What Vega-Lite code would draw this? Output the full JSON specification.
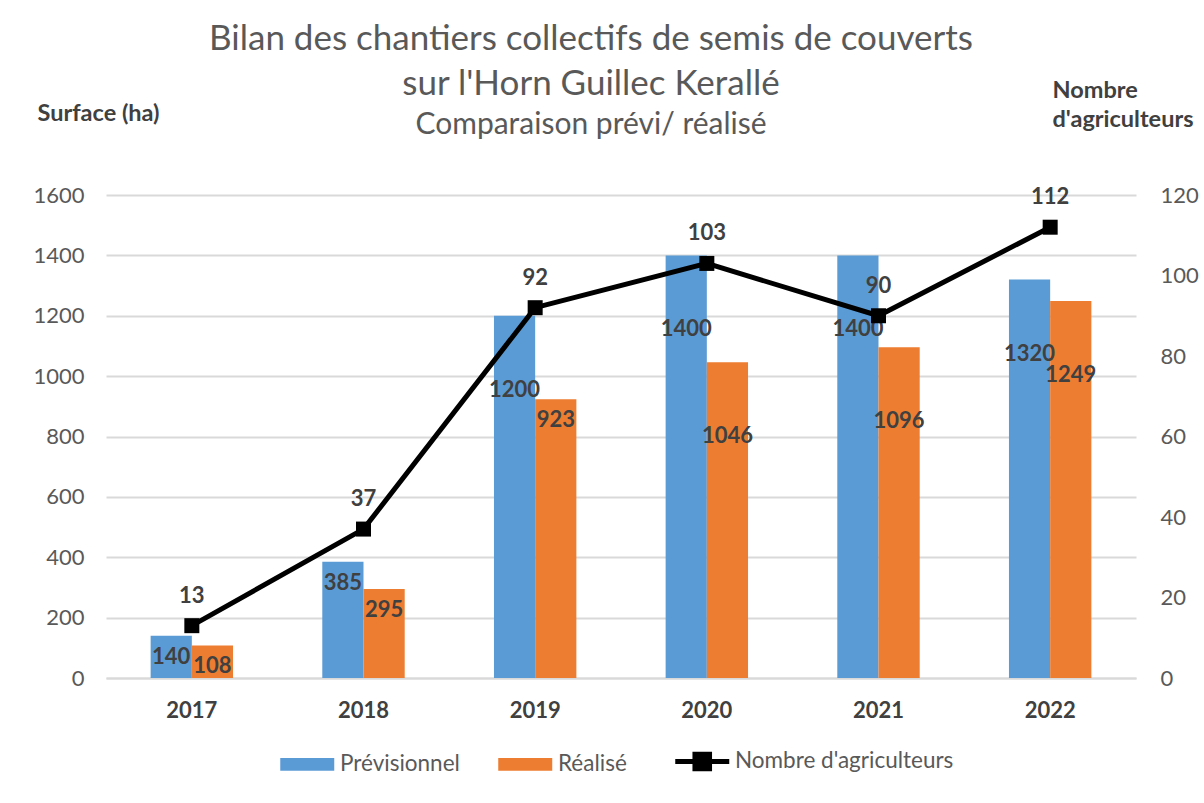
{
  "$schema": "https://vega.github.io/schema/vega-lite/v6.json",
  "width": 1030,
  "height": 483,
  "autosize": "none",
  "padding": {"left": 106, "top": 195, "right": 68, "bottom": 125},
  "background": "white",
  "config": {"view": {"stroke": null}, "font": "Lato"},
  "title": {
    "text": ["Bilan des chantiers collectifs de semis de couverts", "sur l'Horn Guillec Kerallé"],
    "subtitle": "Comparaison prévi/ réalisé",
    "fontSize": 35,
    "fontWeight": "normal",
    "color": "#595959",
    "lineHeight": 45,
    "subtitleFontSize": 30,
    "subtitleColor": "#595959",
    "subtitlePadding": 8,
    "anchor": "middle",
    "frame": "group",
    "dx": -30,
    "offset": -62
  },
  "datasets": {
    "surface": [
      {"year": "2017", "series": "Prévisionnel", "surface": 140},
      {"year": "2017", "series": "Réalisé", "surface": 108},
      {"year": "2018", "series": "Prévisionnel", "surface": 385},
      {"year": "2018", "series": "Réalisé", "surface": 295},
      {"year": "2019", "series": "Prévisionnel", "surface": 1200},
      {"year": "2019", "series": "Réalisé", "surface": 923},
      {"year": "2020", "series": "Prévisionnel", "surface": 1400},
      {"year": "2020", "series": "Réalisé", "surface": 1046},
      {"year": "2021", "series": "Prévisionnel", "surface": 1400},
      {"year": "2021", "series": "Réalisé", "surface": 1096},
      {"year": "2022", "series": "Prévisionnel", "surface": 1320},
      {"year": "2022", "series": "Réalisé", "surface": 1249}
    ],
    "agri": [
      {"year": "2017", "agri": 13},
      {"year": "2018", "agri": 37},
      {"year": "2019", "agri": 92},
      {"year": "2020", "agri": 103},
      {"year": "2021", "agri": 90},
      {"year": "2022", "agri": 112}
    ]
  },
  "layer": [
    {
      "data": {"name": "surface"},
      "encoding": {
        "x": {
          "field": "year", "type": "nominal",
          "scale": {"paddingInner": 0.52, "paddingOuter": 0.26},
          "axis": {"title": null, "labelAngle": 0, "labelFontSize": 22, "labelFontWeight": "bold", "labelColor": "#404040", "labelPadding": 22, "ticks": false, "domainColor": "#d9d9d9", "domainWidth": 2}
        },
        "xOffset": {"field": "series", "type": "nominal", "sort": ["Prévisionnel", "Réalisé"]},
        "y": {
          "field": "surface", "type": "quantitative",
          "scale": {"domain": [0, 1600], "nice": false},
          "axis": {"title": "Surface (ha)", "titleAngle": 0, "titleAlign": "left", "titleBaseline": "middle", "titleX": -69, "titleY": -82, "titleFontSize": 23.5, "titleFontWeight": "bold", "titleColor": "#404040", "values": [0, 200, 400, 600, 800, 1000, 1200, 1400, 1600], "format": "d", "labelFontSize": 22, "labelColor": "#595959", "labelPadding": 22, "ticks": false, "domain": false, "gridColor": "#d9d9d9", "gridWidth": 2}
        }
      },
      "layer": [
        {
          "mark": {"type": "bar"},
          "encoding": {
            "color": {
              "field": "series", "type": "nominal",
              "scale": {"domain": ["Prévisionnel", "Réalisé", "Nombre d'agriculteurs"], "range": ["#5b9bd5", "#ed7d31", "#000000"]},
              "legend": {
                "title": null, "orient": "none", "legendX": 190, "legendY": 555, "direction": "horizontal",
                "labelFontSize": 22.5, "labelColor": "#595959", "labelFont": "Lato", "labelLimit": 400, "symbolSize": 2916, "symbolStrokeWidth": 0, "labelOffset": 21.5, "columnPadding": 38,
                "encode": {"symbols": {"update": {
                  "shape": {"signal": "datum.value === \"Nombre d'agriculteurs\" ? 'M-1,0H1M-0.27,-0.27H0.27V0.27H-0.27Z' : 'M-1,-0.24H1V0.24H-1Z'"},
                  "strokeWidth": {"signal": "datum.value === \"Nombre d'agriculteurs\" ? 5 : 0"},
                  "fill": {"scale": "color", "field": "value"},
                  "stroke": {"scale": "color", "field": "value"},
                  "opacity": {"value": 1},
                  "fillOpacity": {"value": 1}
                }}}
              }
            }
          }
        },
        {
          "mark": {"type": "text", "baseline": "middle", "dy": {"expr": "datum.surface > 1000 ? 74 : 21"}, "fontSize": 22, "fontWeight": "bold", "color": "#404040"},
          "encoding": {"text": {"field": "surface", "type": "quantitative"}}
        }
      ]
    },
    {
      "data": {"name": "agri"},
      "encoding": {
        "x": {"field": "year", "type": "nominal"},
        "y": {
          "field": "agri", "type": "quantitative",
          "scale": {"domain": [0, 120], "nice": false},
          "axis": {"orient": "right", "title": ["Nombre", "d'agriculteurs"], "titleAngle": 0, "titleAlign": "left", "titleBaseline": "top", "titleX": -84, "titleY": -117, "titleLineHeight": 29, "titleFontSize": 23.5, "titleFontWeight": "bold", "titleColor": "#404040", "values": [0, 20, 40, 60, 80, 100, 120], "labelFontSize": 22, "labelColor": "#595959", "labelPadding": 24, "ticks": false, "domain": false, "grid": false}
        }
      },
      "layer": [
        {
          "mark": {"type": "line", "strokeWidth": 5, "point": {"shape": "square", "size": 225, "filled": true, "opacity": 1}},
          "encoding": {
            "color": {
              "datum": "Nombre d'agriculteurs",
              "legend": {
                "title": null, "orient": "none", "legendX": 190, "legendY": 555, "direction": "horizontal",
                "labelFontSize": 22.5, "labelColor": "#595959", "labelFont": "Lato", "labelLimit": 400, "symbolSize": 2916, "symbolStrokeWidth": 0, "labelOffset": 21.5, "columnPadding": 38
              }
            }
          }
        },
        {
          "mark": {"type": "text", "baseline": "middle", "dy": -30, "fontSize": 22, "fontWeight": "bold", "color": "#404040"},
          "encoding": {"text": {"field": "agri", "type": "quantitative"}}
        }
      ]
    }
  ],
  "resolve": {"scale": {"y": "independent"}}
}
